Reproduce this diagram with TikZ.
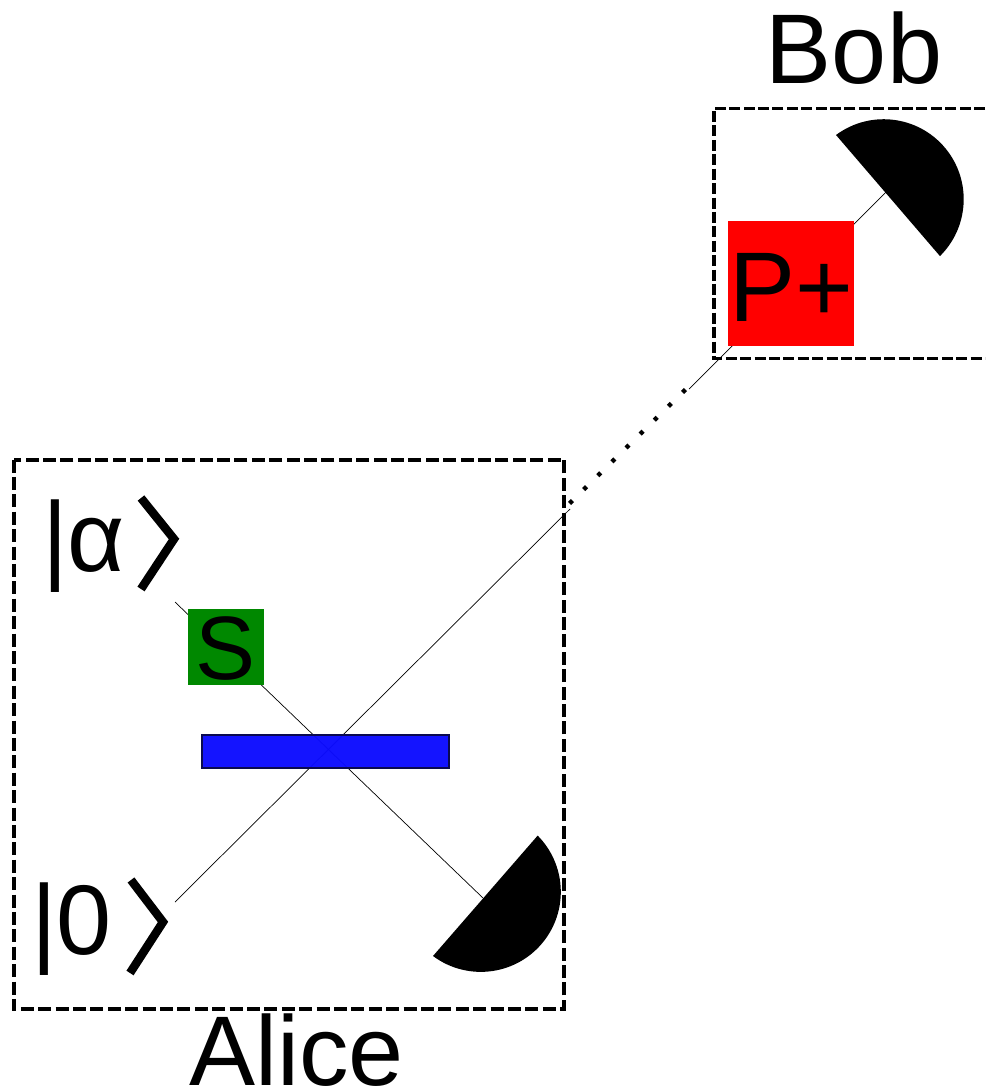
\documentclass[tikz,border=0pt]{standalone}
\usepackage{fontspec}
\setmainfont{Liberation Sans}
\usetikzlibrary{backgrounds}
\definecolor{sgreen}{RGB}{0,136,0}
\definecolor{bsblue}{RGB}{12,12,255}
\definecolor{bsedge}{RGB}{10,10,80}
\begin{document}
\begin{tikzpicture}[x=1pt, y=-1pt]
      \useasboundingbox (0, 0) rectangle (985, 1089);
      \tikzstyle{every node}=[inner sep=0pt, font=\fontsize{99}{99}\selectfont]
      \tikzstyle{beam}=[line width=0.7pt]
      \tikzstyle{chevron}=[line width=8.5pt]

      \path (296.5, 1085) node [anchor=base] (alice) {Alice};
      \path (854, 84) node [anchor=base] (bob) {Bob};
      \path (42, 571) node [anchor=base west] (ketalpha) {|α};
      \path (31, 954) node [anchor=base west] (ketzero) {|0};

      \path (226, 647) node [fill=sgreen, minimum size=76pt, text height=65pt,
        font=\fontsize{90}{90}\selectfont] (shift) {S};
      \path (791, 283.5) node [fill=red, minimum width=126pt, minimum height=125pt,
        text height=75pt] (pplus) {P+};
      \path (325.5, 751.5) node [draw=bsedge, line width=2pt, fill=bsblue, fill opacity=0.97,
        minimum width=247pt, minimum height=33pt] (splitter) {};

      \coordinate (alphaend) at (175, 602);
      \coordinate (zeroend) at (175, 902);
      \coordinate (detalice) at (483, 898);
      \coordinate (detbob) at (886, 192);
      \coordinate (aliceout) at (570, 509);
      \coordinate (dotstart) at (569.6, 503.4);
      \coordinate (dotend) at (686, 389);
      \coordinate (bobin) at (689, 389);

      \begin{scope}[on background layer]
        \draw [beam]
          (alphaend) -- (detalice)
          (zeroend) -- (aliceout)
          (bobin) -- (detbob);
      \end{scope}

      \draw [line width=4.5pt, dash pattern=on 4pt off 15.8pt] (dotstart) -- (dotend);

      \draw [chevron] (141, 498) -- (174, 539) -- (141, 589);
      \draw [chevron] (131, 880) -- (163, 922) -- (130, 973);

      \fill (433, 956) arc [start angle=233.3, end angle=404.7, radius=80pt] -- cycle;
      \fill (836, 135) arc [start angle=126.6, end angle=-45.3, radius=80pt] -- cycle;

      \draw [line width=4pt, dash pattern=on 13pt off 4.4pt] (13.5, 459.5) rectangle (564, 1009);
      \draw [line width=3.2pt, dash pattern=on 11pt off 3.4pt]
        (985, 108.5) -- (714, 108.5) -- (714, 358.5) -- (985, 358.5);
    \end{tikzpicture}
\end{document}
